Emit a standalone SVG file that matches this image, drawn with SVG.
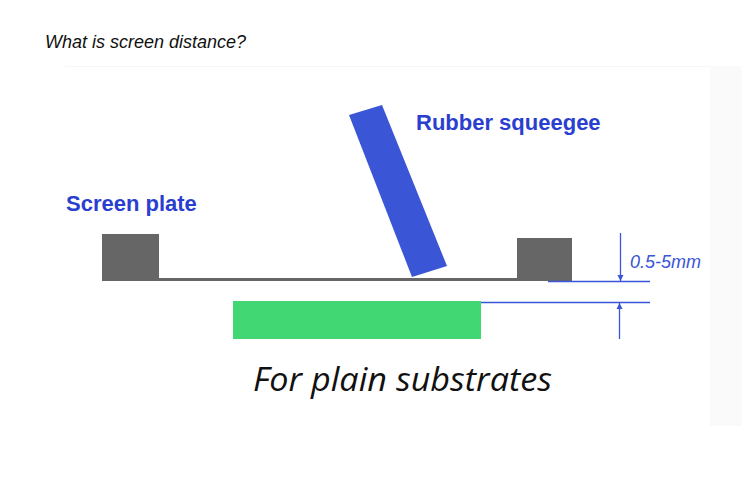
<svg xmlns="http://www.w3.org/2000/svg" width="750" height="500" viewBox="0 0 750 500">
<style>
.lbl{font-family:"Liberation Sans",Arial,sans-serif;font-weight:bold;font-size:22px;fill:#2a3fd0}
.dim{stroke:#3a55d6;stroke-width:1.3;fill:none}
.blk{fill:#666}
</style>
<defs>
<marker id="ah" viewBox="0 0 10 10" refX="10" refY="5" markerWidth="6" markerHeight="10" orient="auto" markerUnits="userSpaceOnUse"><path d="M0,0L10,5L0,10z" fill="#3a55d6"/></marker>
</defs>
<rect width="750" height="500" fill="#fff"/>
<rect x="710" y="66" width="32" height="360" fill="#fafafa"/>
<line x1="65" y1="66.5" x2="710" y2="66.5" stroke="#f6f6f6"/>
<text x="45" y="48" font-family="Liberation Sans,Arial,sans-serif" font-style="italic" font-size="18" fill="#111">What is screen distance?</text>
<g id="screen-plate">
<rect class="blk" x="102" y="234" width="57" height="47"/>
<rect class="blk" x="517" y="238" width="55" height="43"/>
<rect class="blk" x="102" y="278" width="470" height="3"/>
<text class="lbl" x="66" y="211">Screen plate</text>
</g>
<g id="squeegee">
<polygon points="349,115 382,105 447,266 412,277" fill="#3a55d6"/>
<text class="lbl" x="416" y="130">Rubber squeegee</text>
</g>
<g id="substrate">
<rect x="233" y="301" width="248" height="38" fill="#41d873"/>
<text x="253" y="391" font-family="Open Sans,Liberation Sans,sans-serif" font-style="italic" font-size="32" textLength="299" lengthAdjust="spacingAndGlyphs" fill="#111">For plain substrates</text>
</g>
<g id="connectors">
<line class="dim" x1="548" y1="281.5" x2="650" y2="281.5"/>
<line class="dim" x1="481" y1="302.5" x2="650" y2="302.5"/>
<line class="dim" x1="620.5" y1="233" x2="620.5" y2="281" marker-end="url(#ah)"/>
<line class="dim" x1="619.5" y1="339" x2="619.5" y2="303" marker-end="url(#ah)"/>
<text x="630" y="268" font-family="Liberation Sans,Arial,sans-serif" font-style="italic" font-size="18" fill="#3a55d6">0.5-5mm</text>
</g>
</svg>
